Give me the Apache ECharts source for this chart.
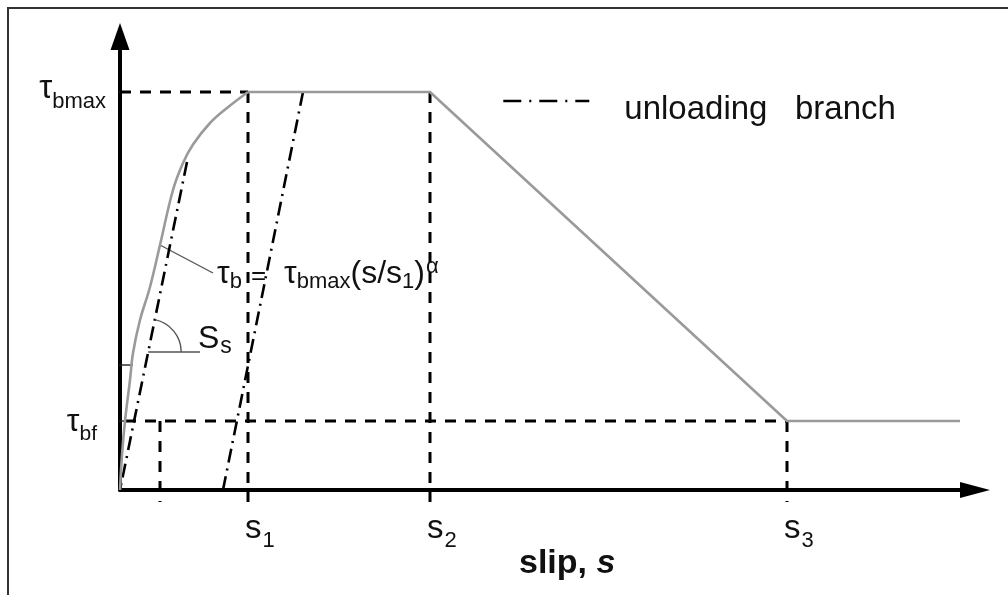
<!DOCTYPE html>
<html>
<head>
<meta charset="utf-8">
<script src="https://cdn.jsdelivr.net/npm/echarts@6/dist/echarts.min.js"></script>
<style>
  html, body { margin: 0; padding: 0; background: #fff; }
  #chart { width: 1008px; height: 595px; }
</style>
</head>
<body>
<div id="chart"></div>
<script>
// Bond stress–slip law: power-law rise, plateau, linear softening, residual friction.
const slipTicks = [12.8, 31.0, 66.7];           // s1, s2, s3
const slipTickNames = ['1', '2', '3'];
const tauMax = 39.8;                            // τbmax
const tauFriction = 6.9;                        // τbf
const tauMark = 12.5;                           // unlabelled tick on the stress axis
const frictionDropSlip = 4.0;                   // dashed drop from τbf to the slip axis
const residualEndSlip = 84.0;

// ascending branch τb = τbmax (s/s1)^α
const riseSlip = [0, 0.2, 0.5, 1.0, 1.3, 2.0, 3.0, 4.0, 5.3, 6.3, 7.3, 9.0, 10.7, 12.8];
const riseTau  = [0, 3.5, 6.9, 11.0, 13.7, 17.0, 20.3, 24.5, 30.0, 32.7, 34.55, 36.7, 38.2, 39.8];

// unloading branches
const unloadA = { slip: [6.7, 0.0], tau: [32.8, 0.0] };
const unloadB = { slip: [18.3, 10.3], tau: [39.8, 0.0] };

// pointer from the curve to its formula
const pointerSlip = [4.0, 9.3];
const pointerTau = [24.5, 21.7];

// slope marker S_s on the first unloading branch
const slopeBaseSlip = [2.82, 8.0];
const slopeBaseTau = [13.8, 13.8];

const FONT = "'Liberation Sans', Arial, Helvetica, sans-serif";
const INK = '#111';

const pairs = (xs, ys) => xs.map((x, i) => [x, ys[i]]);

const riseData = pairs(riseSlip, riseTau);
const plateauData = [
  [slipTicks[0], tauMax],
  [slipTicks[1], tauMax],
  [slipTicks[2], tauFriction],
  [residualEndSlip, tauFriction]
];

const guideSegments = [
  [[-2.0, tauMax], [slipTicks[0], tauMax]],
  [[0.5, tauFriction], [slipTicks[2], tauFriction]],
  [[slipTicks[0], tauMax], [slipTicks[0], -1.2]],
  [[slipTicks[1], tauMax], [slipTicks[1], -1.2]],
  [[slipTicks[2], tauFriction], [slipTicks[2], -1.2]],
  [[frictionDropSlip, tauFriction], [frictionDropSlip, -1.2]]
];

const thinSegments = [
  [[-1.2, tauFriction], [0.5, tauFriction]],
  [[-1.3, tauMark], [1.3, tauMark]],
  [[-0.7, tauMax], [0, tauMax]],
  pairs(pointerSlip, pointerTau),
  pairs(slopeBaseSlip, slopeBaseTau)
];

const lineSeries = (data, lineStyle, z, name, smooth) => ({
  type: 'line',
  name: name,
  data: data,
  symbol: 'none',
  clip: false,
  silent: true,
  smooth: smooth || false,
  z: z,
  lineStyle: lineStyle
});

const curveStyle = { color: '#9a9a9a', width: 2.6 };
const series = [];
guideSegments.forEach(s => series.push(lineSeries(s, { color: '#000', width: 3, type: [11, 9] }, 2)));
thinSegments.forEach((s, i) => series.push(lineSeries(s, { color: i < 3 ? '#222' : '#555', width: 1.4 }, 2)));
series.push(lineSeries(riseData, curveStyle, 4, 'bond law', 0.4));
series.push(lineSeries(plateauData, curveStyle, 4, 'bond law'));
[unloadA, unloadB].forEach(b => series.push(
  lineSeries(pairs(b.slip, b.tau), { color: '#000', width: 2.6, type: [14, 6, 2, 6] }, 3, 'unloading branch')
));

const chart = echarts.init(document.getElementById('chart'));

chart.setOption({
  animation: false,
  backgroundColor: '#fff',
  grid: { left: 120, right: 33, top: 36.5, bottom: 105 },
  legend: {
    data: ['unloading branch'],
    left: 502,
    top: 93.5,
    padding: 0,
    selectedMode: false,
    itemWidth: 86,
    itemHeight: 14,
    itemStyle: { opacity: 0, borderWidth: 0 },
    lineStyle: { color: '#000', width: 2.6, type: [18, 8, 2, 8] },
    formatter: () => '{t|unloading   branch}',
    textStyle: {
      rich: { t: { fontFamily: FONT, fontSize: 33, color: INK, padding: [18, 0, 0, 30] } }
    }
  },
  xAxis: {
    type: 'value', min: 0, max: 85.5,
    axisLine: { show: true, onZero: true, symbol: ['none', 'triangle'], symbolSize: [16, 30],
      lineStyle: { color: '#000', width: 4 } },
    axisTick: { show: false }, axisLabel: { show: false }, splitLine: { show: false }
  },
  yAxis: {
    type: 'value', min: 0, max: 45.35,
    axisLine: { show: true, symbol: ['none', 'triangle'], symbolSize: [19, 27],
      lineStyle: { color: '#000', width: 4 } },
    axisTick: { show: false }, axisLabel: { show: false }, splitLine: { show: false }
  },
  series: series
});

// ---- annotations placed through the grid's coordinate system ----
const px = (x, y) => chart.convertToPixel({ gridIndex: 0 }, [x, y]);
const origin = px(0, 0);

function richText(x, y, text, rich, align) {
  return {
    type: 'text', x: x, y: y, silent: true, z: 10,
    style: { text: text, rich: rich, align: align || 'left', verticalAlign: 'middle',
      fontFamily: FONT, fill: INK }
  };
}
const tok = (size, pad, extra) => Object.assign(
  { fontFamily: FONT, fontSize: size, color: INK, verticalAlign: 'middle', padding: pad || [0, 0, 0, 0] },
  extra || {});

const graphics = [];

// frame
graphics.push({
  type: 'polyline', silent: true, z: 0,
  shape: { points: [[8, 595], [8, 8], [1008, 8]] },
  style: { stroke: '#333', lineWidth: 2, fill: null }
});

// stress axis labels
const yMax = px(0, tauMax)[1];
graphics.push(richText(origin[0] - 14, yMax - 3.1, '{m|τ}{sb|bmax}',
  { m: tok(33), sb: tok(22, [27, 0, 0, 0]) }, 'right'));
const yBf = px(0, tauFriction)[1];
graphics.push(richText(origin[0] - 23, yBf + 0.9, '{m|τ}{sb|bf}',
  { m: tok(32), sb: tok(21, [25, 0, 0, 0]) }, 'right'));

// slip axis tick labels s1, s2, s3
slipTicks.forEach((s, i) => {
  const p = px(s, 0);
  graphics.push(richText(p[0] - 3, origin[1] + 38.6, '{m|s}{sb|' + slipTickNames[i] + '}',
    { m: tok(33), sb: tok(22, [24, 0, 0, 1]) }, 'left'));
});

// axis title
graphics.push(richText(519, 563.5, '{b|slip, }{bi|s}', {
  b: tok(34, null, { fontWeight: 'bold' }),
  bi: tok(34, null, { fontWeight: 'bold', fontStyle: 'italic' })
}, 'left'));

// formula of the ascending branch
const pEnd = px(pointerSlip[1], pointerTau[1]);
graphics.push(richText(pEnd[0] + 4, pEnd[1] + 0.9,
  '{m|τ}{sb|b}{eq|=}{m|τ}{sb|bmax}{m|(s/s}{sb|1}{m|)}{sp|α}', {
    m: tok(32),
    sb: tok(22, [17, 0, 0, 0]),
    eq: tok(26, [6, 18, 0, 9]),
    sp: tok(22, [0, 0, 13, 1])
  }, 'left'));

// slope marker
const pc = px(slopeBaseSlip[0], slopeBaseTau[0]);
const pTop = px(unloadA.slip[0], unloadA.tau[0]);
const pBot = px(unloadA.slip[1], unloadA.tau[1]);
const ang = Math.atan2(pTop[1] - pBot[1], pTop[0] - pBot[0]);
graphics.push({
  type: 'arc', silent: true, z: 5,
  shape: { cx: pc[0], cy: pc[1], r: 33, startAngle: ang, endAngle: 0, clockwise: true },
  style: { stroke: '#555', lineWidth: 1.4, fill: null }
});
const pS = px(slopeBaseSlip[1], slopeBaseTau[1]);
graphics.push(richText(pS[0] - 2, pS[1] - 13.1, '{m|S}{sb|s}',
  { m: tok(32), sb: tok(23, [16, 0, 0, 1]) }, 'left'));

chart.setOption({ graphic: graphics });
</script>
</body>
</html>
